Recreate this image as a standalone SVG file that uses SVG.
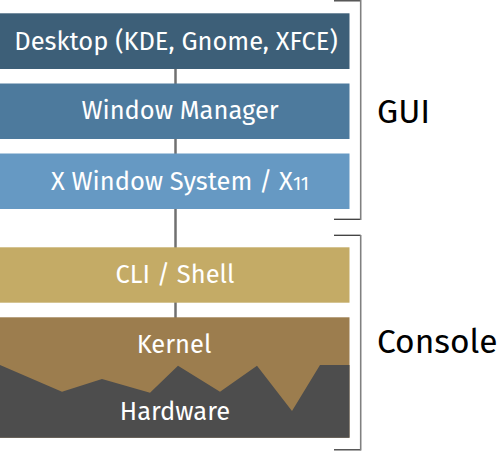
<svg xmlns="http://www.w3.org/2000/svg" width="499" height="451" viewBox="0 0 499 451">
<style>
.lbl{font-family:"Fira Sans","Open Sans","Noto Sans",sans-serif;fill:#fff;font-size:25.5px;text-anchor:middle}
.side{font-family:"Fira Sans","Open Sans","Noto Sans",sans-serif;fill:#000;font-size:33.5px}
.conn{stroke:#707070;stroke-width:2.5;fill:none}
.bh{stroke:#3a3a3a;stroke-width:1.3;fill:none}
.bv{stroke:#808080;stroke-width:1.6;fill:none}
</style>
<rect width="499" height="451" fill="#fff"/>
<g id="connectors">
<line class="conn" x1="175.5" y1="69" x2="175.5" y2="318"/>
</g>
<g id="desktop">
<rect x="0" y="13.3" width="349.5" height="55.7" fill="#3d5f78"/>
<text class="lbl" x="176" y="50">Desktop (KDE, Gnome, XFCE)</text>
</g>
<g id="window-manager">
<rect x="0" y="83.5" width="349.5" height="55.5" fill="#4d7a9d"/>
<text class="lbl" x="180" y="119">Window Manager</text>
</g>
<g id="x-window-system">
<rect x="0" y="153.5" width="349.5" height="55.5" fill="#6699c3"/>
<text class="lbl" x="180" y="190">X Window System / X<tspan font-size="19">11</tspan></text>
</g>
<g id="cli-shell">
<rect x="0" y="247.3" width="349.5" height="55.4" fill="#c4ab66"/>
<text class="lbl" x="175" y="283">CLI / Shell</text>
</g>
<g id="kernel">
<rect x="0" y="317.3" width="349.5" height="120.4" fill="#9c7d4e"/>
<text class="lbl" x="174" y="353">Kernel</text>
</g>
<g id="hardware">
<polygon points="0,365 62,391.7 102,379 150,392.7 178,365.7 220,391.7 257,365.7 292,411 320,365 349.5,365 349.5,437.7 0,437.7" fill="#4d4d4d"/>
<text class="lbl" x="175" y="420">Hardware</text>
</g>
<g id="gui-bracket">
<polyline class="bh" points="334,0.8 360.7,0.8"/>
<polyline class="bh" points="334,219.3 360.7,219.3"/>
<line class="bv" x1="360.7" y1="0" x2="360.7" y2="220"/>
<text class="side" x="377" y="123">GUI</text>
</g>
<g id="console-bracket">
<polyline class="bh" points="334,235.3 360.7,235.3"/>
<polyline class="bh" points="334,449.8 360.7,449.8"/>
<line class="bv" x1="360.7" y1="235" x2="360.7" y2="450.5"/>
<text class="side" x="377" y="353">Console</text>
</g>
</svg>
